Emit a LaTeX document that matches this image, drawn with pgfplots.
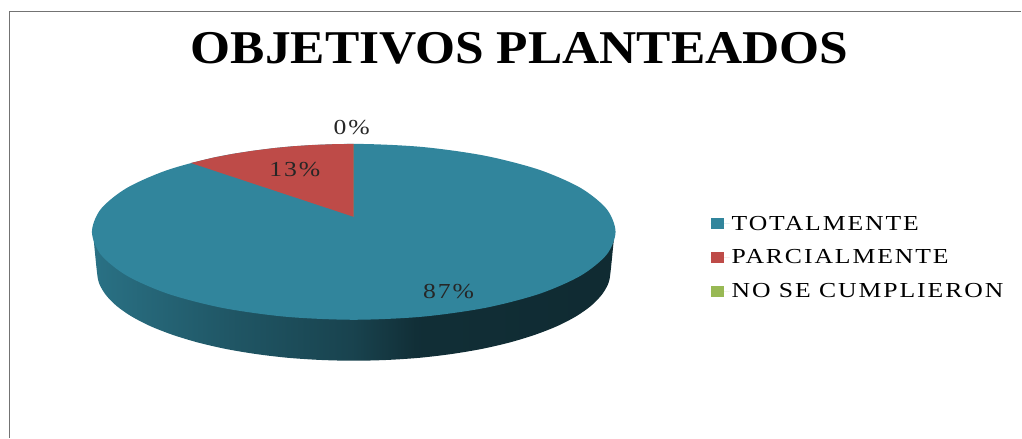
\documentclass[border=0pt]{standalone}
\usepackage{pgfplots}
\pgfplotsset{compat=1.18}
\usepackage{fontspec}
\setmainfont{Liberation Serif}
\newfontfamily\wide[FakeStretch=1.2,LetterSpace=9]{Liberation Serif}
\newfontfamily\titlefont[FakeStretch=1.095]{Liberation Serif}

\definecolor{tot}{HTML}{31859C}
\definecolor{par}{HTML}{BE4B48}
\definecolor{nos}{HTML}{98B954}

% side wall of the pie, bbox sits between 25bp and 75bp
\pgfdeclarehorizontalshading{sidewall}{100bp}{
    color(0bp)=(tot!85!black);
    color(25bp)=(tot!85!black);
    color(38bp)=(tot!65!black);
    color(50bp)=(tot!50!black);
    color(56bp)=(tot!35!black);
    color(75bp)=(tot!32!black);
    color(100bp)=(tot!32!black)
}

\begin{document}
\begin{tikzpicture}
    \begin{axis}[
        width=1022pt, height=438pt,
        scale only axis,
        hide axis,
        clip=false,
        xmin=0, xmax=1022,
        ymin=0, ymax=438,
        y dir=reverse,
        legend style={
            at={(axis cs:711,214)},
            anchor=north west,
            draw=none, fill=none,
            inner sep=0pt,
            row sep=14pt,
            font=\fontsize{21.4}{21.4}\wide,
            legend cell align=left,
        },
        legend image code/.code={
            \fill[#1] (0pt,-5.5pt) rectangle (13pt,5.5pt);
            \path (0pt,0pt) -- (19pt,0pt);
        },
        ]

        % keep the whole canvas, hide axis does not count for the page size
        \path (axis cs:0,0) rectangle (axis cs:1022,438);

        % frame of the picture, left and top only
        \addplot [forget plot, color=black!55, line width=1.5pt] coordinates {
            (9.5,438) (9.5,11.5) (1022,11.5)
        };

        % side wall
        \addplot [forget plot, draw=none, shading=sidewall, smooth] coordinates {
            (93,232) (97,272) (99.2,283.6) (105.8,295) (116.6,306.1) (131.4,316.5)
            (150.1,326.2) (172.3,334.9) (197.5,342.6) (225.5,349.1) (255.6,354.2)
            (287.5,358) (320.5,360.2) (354,361) (387.5,360.2) (420.5,358)
            (452.4,354.2) (482.5,349.1) (510.5,342.6) (535.7,334.9) (557.9,326.2)
            (576.6,316.5) (591.4,306.1) (602.2,295) (608.8,283.6) (611,272) (615,232)
        } -- cycle;

        % TOTALMENTE, whole top face, ends overlap so no kink shows at the join
        \addplot [draw=none, fill=tot, smooth] coordinates {
            (607.1,209.2) (616,232) (607.1,254.8) (580.9,276) (539.3,294.2) (485,308.2) (421.8,317)
            (354,320) (286.2,317) (223,308.2) (168.7,294.2) (127.1,276) (100.9,254.8)
            (92,232) (100.9,209.2) (127.1,188) (168.7,169.8) (223,155.8) (286.2,147)
            (354,144) (421.8,147) (485,155.8) (539.3,169.8) (580.9,188) (607.1,209.2)
            (616,232) (607.1,254.8)
        } -- cycle;
        \addlegendentry{TOTALMENTE}

        % PARCIALMENTE
        \addplot [draw=none, fill=par] coordinates {
            (354,217) (354,144) (334,144.3) (314,145) (294,146.3) (274,148.2)
            (254,150.7) (234,153.8) (214,157.6) (191,163.1)
        } -- cycle;
        \addlegendentry{PARCIALMENTE}

        % NO SE CUMPLIERON, 0 percent
        \addplot [draw=none, fill=nos] coordinates {
            (354,217) (354,144)
        } -- cycle;
        \addlegendentry{NO SE CUMPLIERON}

        \node [font=\fontsize{21.4}{21.4}\wide, text=black!85] at (axis cs:352,128) {0\%};
        \node [font=\fontsize{21.4}{21.4}\wide, text=black!85] at (axis cs:295,170) {13\%};
        \node [font=\fontsize{21.4}{21.4}\wide, text=black!85] at (axis cs:449,292) {87\%};
        \node [font=\fontsize{47}{47}\titlefont\bfseries] at (axis cs:520,48) {OBJETIVOS PLANTEADOS};
    \end{axis}
\end{tikzpicture}
\end{document}
